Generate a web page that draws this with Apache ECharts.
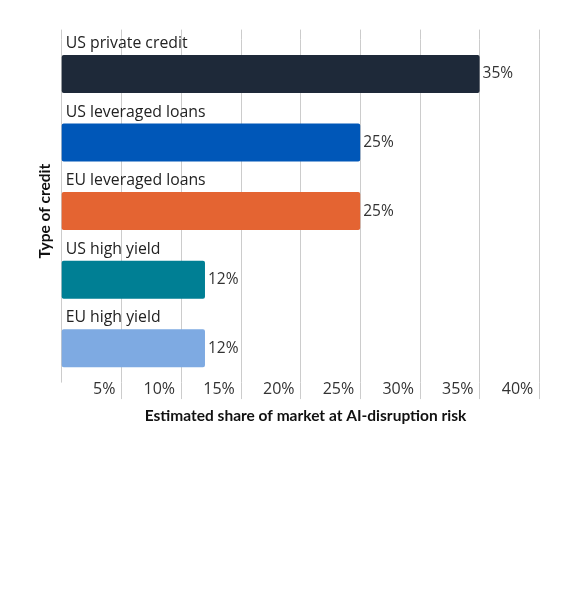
<!DOCTYPE html>
<html>
<head>
<meta charset="utf-8">
<script src="https://cdn.jsdelivr.net/npm/echarts@6/dist/echarts.min.js"></script>
<style>html,body{margin:0;padding:0;background:#fff}#c{width:570px;height:602px}</style>
</head>
<body>
<div id="c"></div>
<script>
const categories = ['US private credit', 'US leveraged loans', 'EU leveraged loans', 'US high yield', 'EU high yield'];
const values = [35, 25, 25, 12, 12];
const barColors = ['#1e2939', '#0057b8', '#e46432', '#007f94', '#7eaae2'];
const xTicks = [0, 5, 10, 15, 20, 25, 30, 35, 40];

const FONT = 'Lato, "Noto Sans", sans-serif';
const FONT2 = '"Open Sans", Lato, sans-serif';
const chart = echarts.init(document.getElementById('c'), null, {renderer: 'canvas'});
const gridColor = '#cccccc';
chart.setOption({
  animation: false,
  grid: {left: 61.7, right: 30.7, top: 39.6, height: 343, containLabel: false},
  xAxis: [{
    type: 'value', position: 'bottom',
    min: xTicks[0], max: xTicks[xTicks.length - 1], interval: 5,
    name: 'Estimated share of market at AI-disruption risk',
    nameLocation: 'middle', nameGap: 25,
    nameTextStyle: {fontFamily: FONT, fontWeight: 'bold', fontSize: 15.5, color: '#111', padding: [0, 0, 0, 10]},
    axisLine: {show: false},
    axisTick: {show: true, length: 16.5, lineStyle: {color: gridColor, width: 1}},
    splitLine: {show: true, lineStyle: {color: gridColor, width: 1}},
    axisLabel: {
      showMinLabel: false, align: 'right', verticalAlign: 'middle', margin: 7,
      padding: [2, 6, 0, 0],
      fontFamily: FONT2, fontSize: 16, color: '#333',
      formatter: v => v + '%'
    }
  }, {
    type: 'value', position: 'top',
    min: xTicks[0], max: xTicks[xTicks.length - 1], interval: 5,
    axisLine: {show: false},
    axisTick: {show: true, length: 10, lineStyle: {color: gridColor, width: 1}},
    splitLine: {show: false},
    axisLabel: {show: false}
  }],
  yAxis: {
    type: 'category', data: categories, inverse: true, z: 10,
    name: 'Type of credit', nameLocation: 'middle', nameGap: 9, nameRotate: 90,
    nameTextStyle: {fontFamily: FONT, fontWeight: 'bold', fontSize: 15.5, color: '#111'},
    axisLine: {show: false}, axisTick: {show: false},
    axisLabel: {
      interval: 0, hideOverlap: false,
      inside: true, margin: 4, align: 'left', verticalAlign: 'middle',
      formatter: v => '{t|' + v + '}\n{s| }',
      rich: {
        t: {fontFamily: FONT2, fontSize: 15.8, color: '#222', lineHeight: 18},
        s: {fontSize: 1, lineHeight: 61, height: 61}
      }
    }
  },
  series: [{
    type: 'bar', xAxisIndex: 0,
    barWidth: 38,
    data: values.map((v, i) => ({value: v, itemStyle: {color: barColors[i]}})),
    itemStyle: {borderRadius: 2},
    label: {
      show: true, position: 'right', distance: 3,
      padding: [3, 0, 0, 0],
      fontFamily: FONT2, fontSize: 15.5, color: '#333',
      formatter: p => p.value + '%'
    }
  }]
});
</script>
</body>
</html>
